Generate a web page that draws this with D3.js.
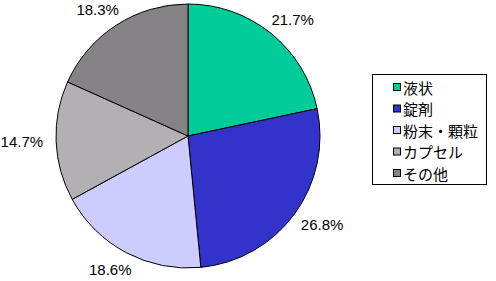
<!DOCTYPE html>
<html>
<head>
<meta charset="utf-8">
<script src="https://cdn.jsdelivr.net/npm/d3@7"></script>
<style>
  body { margin: 0; background: #fff; }
  svg { display: block; }
</style>
</head>
<body>
<svg width="496" height="281"></svg>
<script>
const categories = ['液状', '錠剤', '粉末・顆粒', 'カプセル', 'その他'];
const values = [21.7, 26.8, 18.6, 14.7, 18.3];
const colors = ['#00CC99', '#3333CC', '#CCCCFF', '#B2B0B2', '#858385'];

const svg = d3.select('svg');
const cx = 188, cy = 136, radius = 132;
const labelR = 145;

const pie = d3.pie().sort(null).value((d) => d.value);
const arcs = pie(categories.map((c, i) => ({ name: c, value: values[i], color: colors[i] })));

const arc = d3.arc().innerRadius(0).outerRadius(radius);

const g = svg.append('g').attr('transform', `translate(${cx},${cy})`);

// slices
g.selectAll('path')
  .data(arcs)
  .enter()
  .append('path')
  .attr('d', arc)
  .attr('fill', (d) => d.data.color)
  .attr('stroke', '#000')
  .attr('stroke-width', 1);

// percent labels, box edge pushed out from the pie along the mid angle
g.selectAll('.lbl')
  .data(arcs)
  .enter()
  .append('text')
  .attr('class', 'lbl')
  .attr('text-anchor', 'middle')
  .attr('dominant-baseline', 'central')
  .attr('font-family', 'Liberation Sans, Arial, sans-serif')
  .attr('font-size', 15)
  .attr('fill', '#000')
  .text((d) => d.data.value.toFixed(1) + '%')
  .each(function (d) {
    const a = (d.startAngle + d.endAngle) / 2;
    const w = this.getBBox().width;
    const h = 11;
    const x = Math.sin(a) * labelR + Math.sin(a) * w / 2;
    const y = -Math.cos(a) * labelR - Math.cos(a) * h / 2;
    d3.select(this).attr('x', x).attr('y', y);
  });

// legend
const legend = svg.append('g').attr('transform', 'translate(372,74)');
legend.append('rect')
  .attr('x', 0.5).attr('y', 0.5)
  .attr('width', 114).attr('height', 110)
  .attr('fill', '#fff')
  .attr('stroke', '#000');

const item = legend.selectAll('.item')
  .data(arcs)
  .enter()
  .append('g')
  .attr('class', 'item')
  .attr('transform', (d, i) => `translate(0,${13 + i * 21.5})`);

item.append('rect')
  .attr('x', 21.5).attr('y', -3.5)
  .attr('width', 7).attr('height', 7)
  .attr('fill', (d) => d.data.color)
  .attr('stroke', '#000');

item.append('text')
  .attr('x', 31)
  .attr('y', 0)
  .attr('dominant-baseline', 'central')
  .attr('font-family', 'Noto Sans CJK JP, sans-serif')
  .attr('font-size', 15)
  .attr('fill', '#000')
  .text((d) => d.data.name);
</script>
</body>
</html>
